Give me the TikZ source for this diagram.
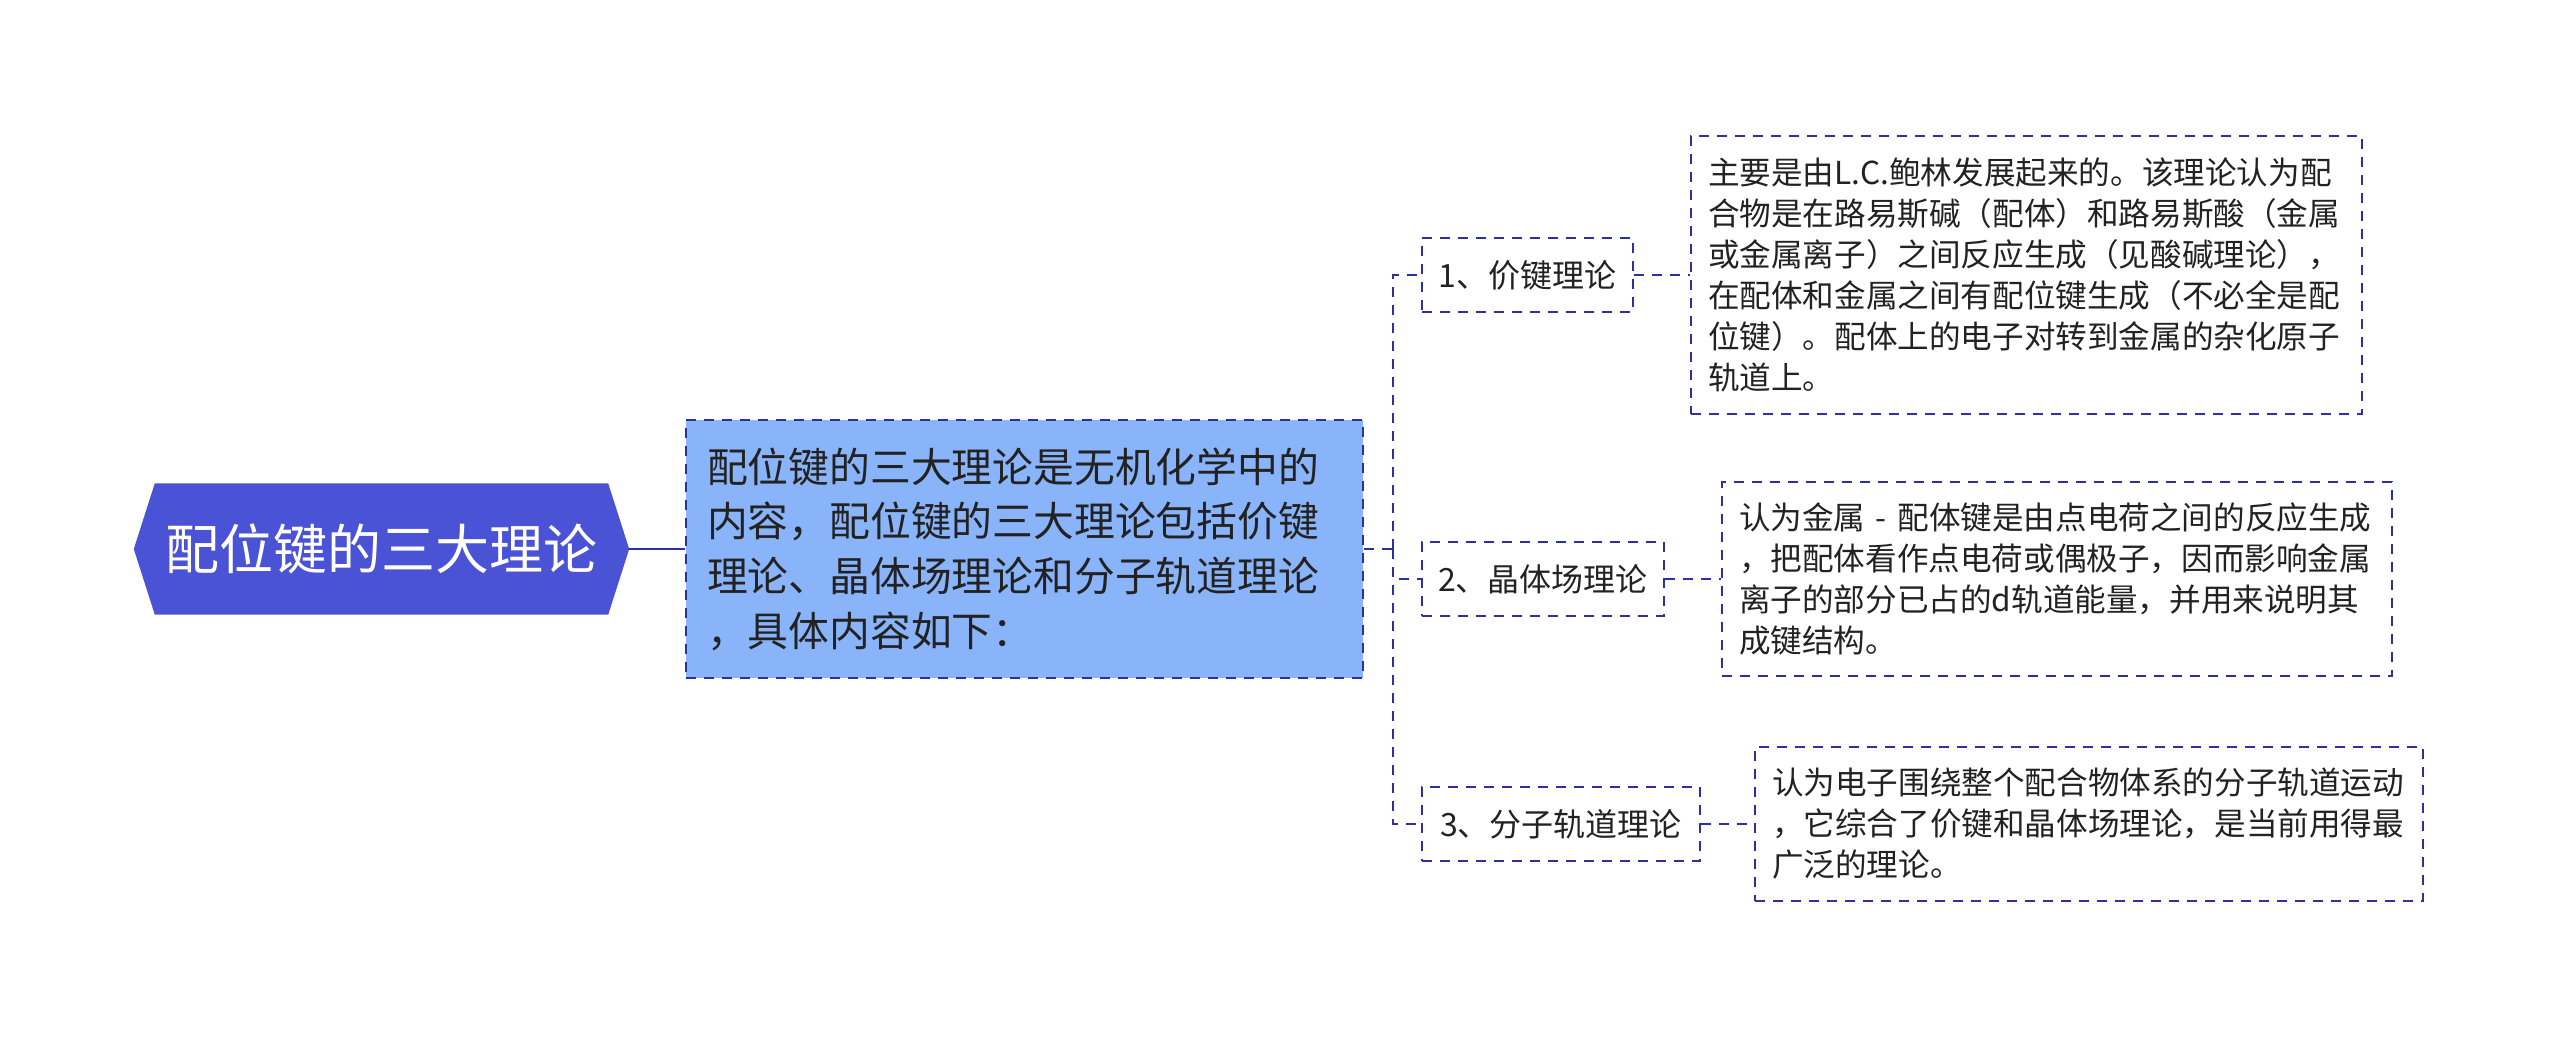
\documentclass[tikz,border=0pt]{standalone}
\usepackage{fontspec}
\setmainfont{Noto Sans CJK SC}
\usetikzlibrary{backgrounds,calc}
\definecolor{rootfill}{RGB}{74,82,214}
\definecolor{mainfill}{RGB}{138,180,250}
\definecolor{edgeblue}{RGB}{45,48,160}
\definecolor{txt}{RGB}{34,34,34}
\begin{document}
\begin{tikzpicture}[x=1pt,y=1pt,
 box/.style={draw=edgeblue, line width=2.2pt, dash pattern=on 10pt off 8pt, inner sep=0pt, text=txt, align=left},
 link/.style={draw=edgeblue, line width=2.2pt, dash pattern=on 10pt off 8pt},
 childbox/.style={box, minimum height=74pt, font=\fontsize{32}{40}\selectfont},
 leafbox/.style={box, inner xsep=17pt, font=\fontsize{31.6}{41}\selectfont},
]
\useasboundingbox (0,0) rectangle (2560,-1037);
% root
\node[text=white, font=\fontsize{54}{60}\selectfont, minimum width=495pt, minimum height=131pt, inner sep=0pt] (root) at (381.5,-549) {配位键的三大理论};
\begin{scope}[on background layer]
\fill[rootfill] (root.west) -- ($(root.north west)+(21,0)$) -- ($(root.north east)+(-21,0)$) -- (root.east) -- ($(root.south east)+(-21,0)$) -- ($(root.south west)+(21,0)$) -- cycle;
\end{scope}
% main
\node[box, fill=mainfill, inner xsep=21pt, text width=635pt, minimum height=258pt, font=\fontsize{40.8}{54.7}\selectfont] (main) at (1024.5,-549) {配位键的三大理论是无机化学中的\\内容，配位键的三大理论包括价键\\理论、晶体场理论和分子轨道理论\\，具体内容如下：};
% children
\node[childbox, minimum width=211pt] (c1) at (1527.5,-275) {1、价键理论};
\node[childbox, minimum width=242pt] (c2) at (1543,-579) {2、晶体场理论};
\node[childbox, minimum width=278pt] (c3) at (1561,-824) {3、分子轨道理论};
% leaves
\node[leafbox, text width=637pt, minimum height=278pt] (l1) at (2026.5,-275) {主要是由L.C.鲍林发展起来的。该理论认为配\\合物是在路易斯碱（配体）和路易斯酸（金属\\或金属离子）之间反应生成（见酸碱理论），\\在配体和金属之间有配位键生成（不必全是配\\位键）。配体上的电子对转到金属的杂化原子\\轨道上。};
\node[leafbox, text width=636pt, minimum height=194pt] (l2) at (2057,-579) {认为金属 - 配体键是由点电荷之间的反应生成\\，把配体看作点电荷或偶极子，因而影响金属\\离子的部分已占的d轨道能量，并用来说明其\\成键结构。};
\node[leafbox, text width=634pt, minimum height=154pt] (l3) at (2089,-824) {认为电子围绕整个配合物体系的分子轨道运动\\，它综合了价键和晶体场理论，是当前用得最\\广泛的理论。};
% connectors
\draw[edgeblue, line width=2.2pt] (root.east) -- (main.west);
\coordinate (trunk) at (1393,-549);
\draw[link] (main.east) -- (trunk);
\draw[link] (trunk) |- (c1.west);
\draw[link] (trunk) |- (c2.west);
\draw[link] (trunk) |- (c3.west);
\draw[link] (c1.east) -- (l1.west);
\draw[link] (c2.east) -- (l2.west);
\draw[link] (c3.east) -- (l3.west);
\end{tikzpicture}
\end{document}
